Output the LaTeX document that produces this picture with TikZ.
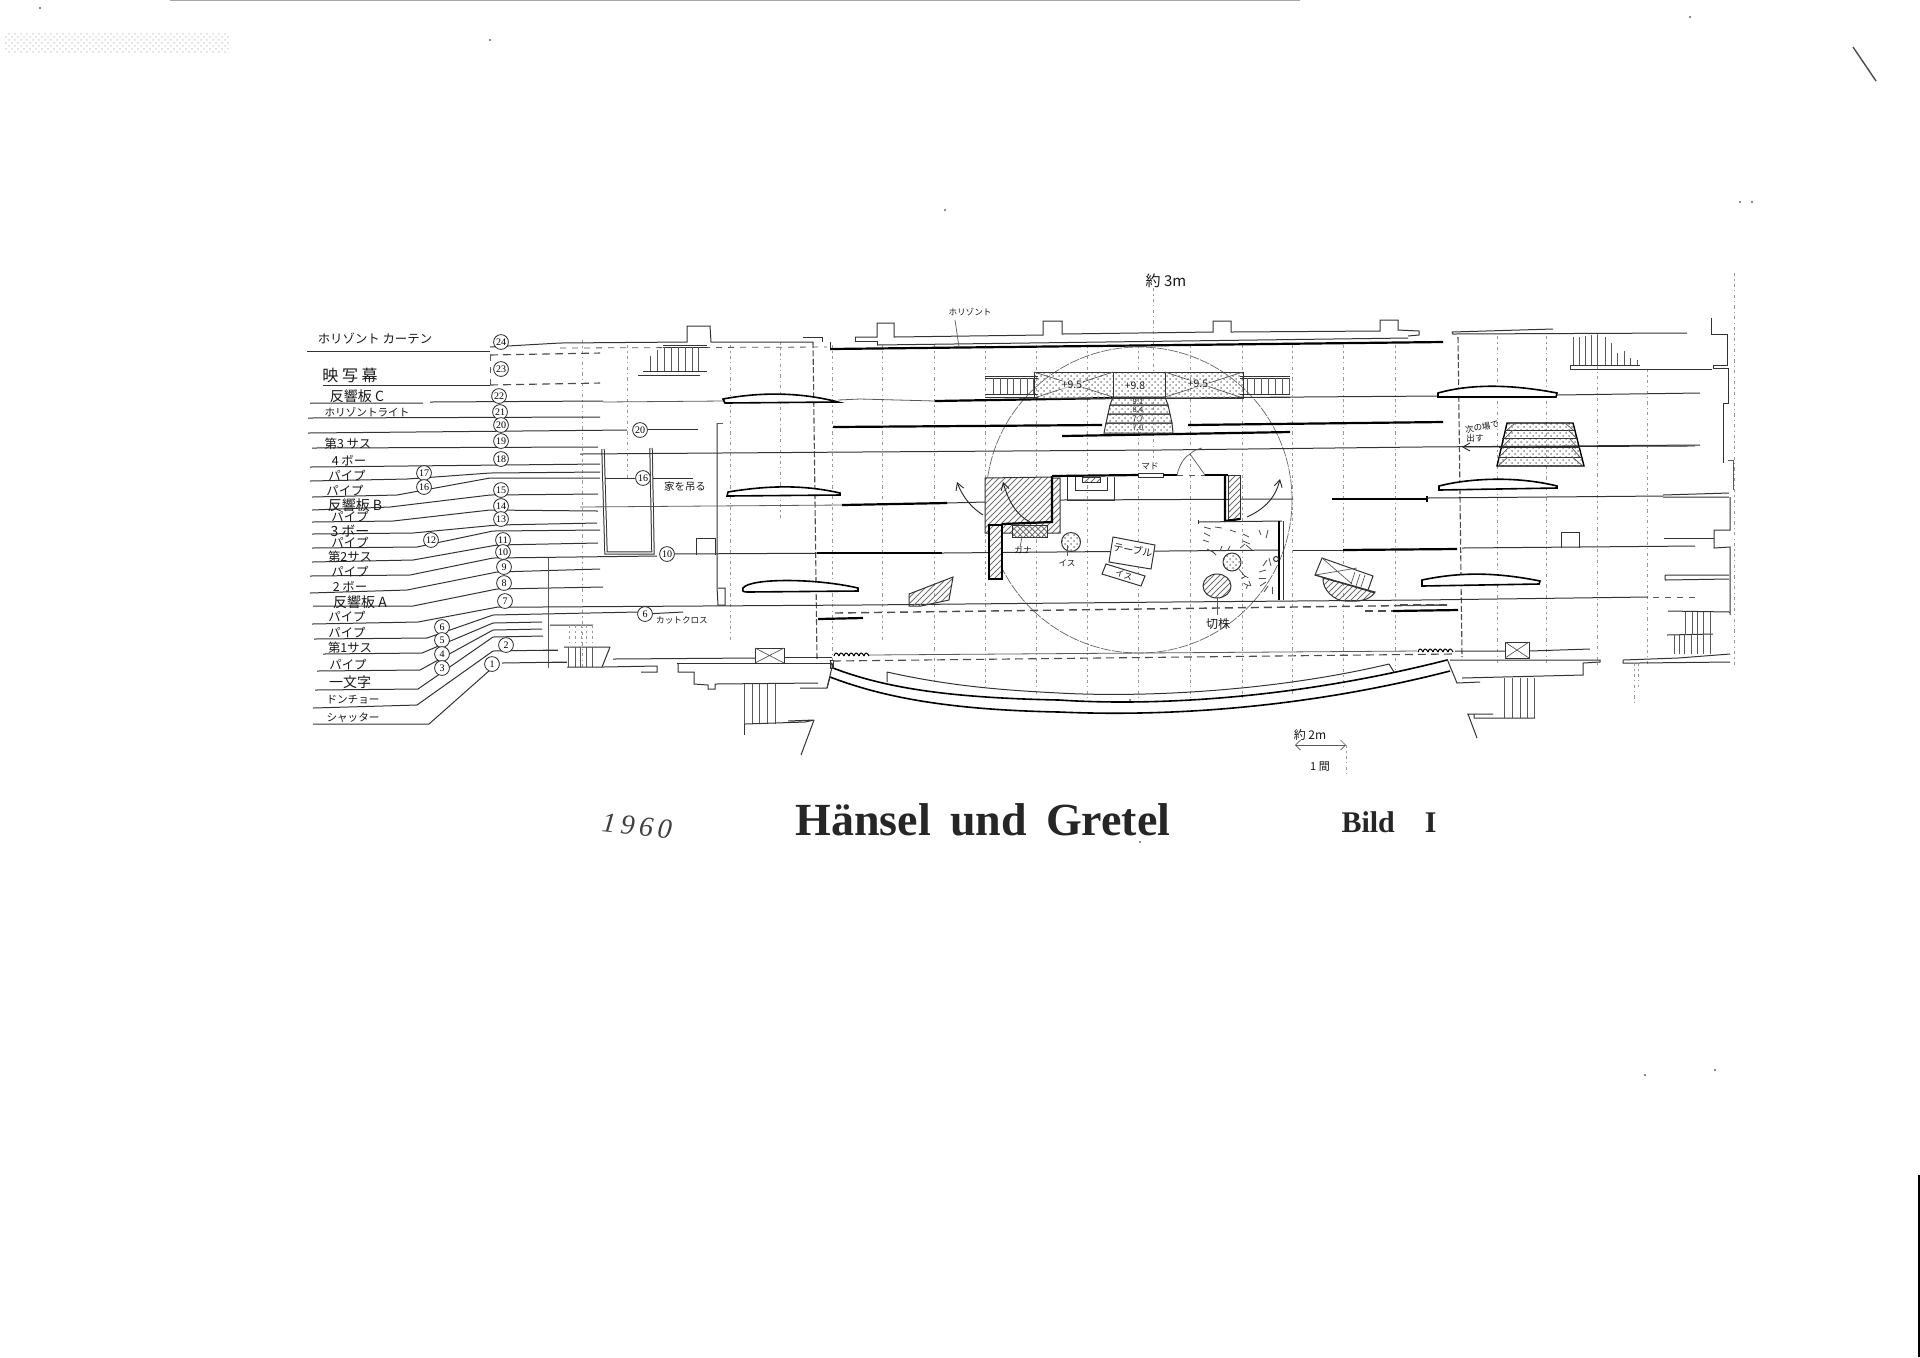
\documentclass[tikz,border=0pt]{standalone}
\usepackage{fontspec}
\setmainfont{Liberation Serif}
\newfontfamily\jp{Noto Sans CJK JP}
\usetikzlibrary{patterns,arrows.meta}
\tikzset{
  ln/.style={line width=.5pt,black!80},
  thk/.style={line width=1.1pt,black},
  fine/.style={line width=.35pt,black!65},
  gridln/.style={line width=.35pt,black!40,dash pattern=on 1.6pt off 1.6pt on .6pt off 1.6pt},
  ddash/.style={line width=.55pt,black!70,dash pattern=on 4pt off 2.5pt},
  thinline/.style={line width=.4pt,black!65},
  lab/.style={font=\jp\fontsize{6.2}{7}\selectfont,inner sep=0pt,black!90},
  labw/.style={font=\jp\fontsize{7}{8}\selectfont,inner sep=0pt,black!90},
  labn/.style={font=\jp\fontsize{5.3}{6}\selectfont,inner sep=0pt,black!90},
  small/.style={font=\jp\fontsize{4.3}{5}\selectfont,inner sep=0pt,black!90},
  num/.style={circle,draw=black!85,fill=white,line width=.4pt,minimum size=7.4pt,inner sep=0pt,font=\fontsize{5}{5}\selectfont},
  hatch/.style={pattern=north east lines,pattern color=black!55},
  stip/.style={pattern=crosshatch dots,pattern color=black!45},
  arr/.style={line width=.45pt,black!85,-{Straight Barb[length=3.5pt,width=4pt]}},
  refl/.style={line width=.8pt,black,fill=white},
  ray/.style={line width=.4pt,black!70}
}
\begin{document}
\begin{tikzpicture}[x=.5pt,y=-.5pt]
\useasboundingbox (0,0) rectangle (1920,1357);
\fill[white] (0,0) rectangle (1920,1357);

% page edge and scan marks
\draw[line width=.3pt,black!35] (170,0) -- (1300,0);
\draw[line width=.7pt,black!70] (1853,47) -- (1876,81);
\draw[line width=.8pt,black] (1919,1175) -- (1919,1357);
\foreach \x/\y in {40/8, 1690/17, 1740/202, 1752/202, 945/210, 1130/700, 1645/1075, 1715/1070, 1140/842, 490/40}
  \fill[black!60] (\x,\y) circle[radius=1.2];
\path[pattern=crosshatch dots,pattern color=black!15] (5,32) rectangle (230,52);

% grid
\foreach \x/\a/\b in {582/340/670, 627/345/480, 730/345/640, 780/342/520, 832/345/660,
  882/345/640, 934/345/680, 985/345/690, 1036/345/695, 1087/345/700, 1138/345/700,
  1190/345/700, 1242/345/700, 1292/345/695, 1343/345/690, 1395/345/670,
  1497/336/665, 1546/336/665, 1597/333/665, 1647/369/665}
  \draw[gridln] (\x,\a) -- (\x,\b);
\draw[gridln] (1153,288) -- (1153,460);
\draw[gridln] (1734,273) -- (1734,668);
\draw[ddash,dash pattern=on 3pt off 1.2pt] (813,342) -- (817,660);
\draw[ddash,dash pattern=on 3pt off 1.2pt] (1458,337) -- (1462,657);

% rotating stage circle
\draw[line width=.35pt,black!60,dash pattern=on 5pt off .6pt] (1139,500) circle[radius=153];

% left label lines
\draw[ln] (307,351) -- (490,351);
\draw[ln] (560,343) -- (490,347);
\draw[ddash] (490,355) -- (600,353);
\draw[ddash] (490,385) -- (600,383);
\draw[thinline,dashed] (490,355) -- (490,385);
\draw[ln] (323,385) -- (490,385);
\draw[ln] (310,403) -- (423,403) (430,402) -- (603,401);
\draw[ln] (308,418) -- (600,417);
\draw[ln] (308,433) -- (627,430);
\draw[ln] (648,429) -- (698,429);
\draw[ln] (312,448) -- (598,447);
\draw[ln] (310,467) -- (600,464);
\draw[ln] (310,481) -- (407,479) -- (490,473) -- (600,472);
\draw[ln] (312,497) -- (397,495) -- (490,478) -- (600,478);
\draw[ln] (312,510) -- (390,507) -- (490,495) -- (598,494);
\draw[ln] (312,522) -- (393,521) -- (490,510) -- (598,511);
\draw[ln] (312,534) -- (413,533) -- (497,525) -- (597,523);
\draw[ln] (312,548) -- (417,547) -- (493,531) -- (600,530);
\draw[ln] (312,562) -- (413,560) -- (497,545) -- (598,543);
\draw[ln] (310,576) -- (410,575) -- (493,558) -- (657,556);
\draw[ln] (310,593) -- (407,590) -- (497,572) -- (600,569);
\draw[ln] (313,606) -- (413,606) -- (497,589) -- (603,587);
\draw[ln] (312,624) -- (418,622) -- (498,607) -- (540,607);
\draw[ln] (314,639) -- (427,638) -- (493,615) -- (638,612);
\draw[ln] (323,654) -- (422,653) -- (493,623) -- (542,622);
\draw[ln] (317,671) -- (420,670) -- (493,630) -- (542,629);
\draw[ln] (315,690) -- (418,689) -- (493,637) -- (543,636);
\draw[ln] (313,708) -- (417,705) -- (493,651) -- (558,650);
\draw[ln] (313,724) -- (429,724) -- (490,670);
\draw[ln] (502,663) -- (567,662);
\draw[fine] (548,558) -- (548,668);

% label texts
\node[lab] (t1) at (375,338) {ホリゾント カーテン};
\node[lab,font=\jp\fontsize{8}{8}\selectfont] (t2) at (350,375) {映 写 幕};
\node[labw] (t3) at (357,396) {反響板 C};
\node[labn] (t4) at (367,412) {ホリゾントライト};
\node[lab] (t5) at (348,444) {第3 サス};
\node[lab] (t6) at (349,461) {4 ボー};
\node[lab] (t7) at (347,476) {パイプ};
\node[lab] (t8) at (345,491) {パイプ};
\node[labw] (t9) at (355,505) {反響板 B};
\node[lab] (t10) at (350,517) {パイプ};
\node[labw] (t11) at (350,531) {3 ボー};
\node[lab] (t12) at (350,543) {パイプ};
\node[lab] (t13) at (350,557) {第2サス};
\node[lab] (t14) at (350,572) {パイプ};
\node[lab] (t15) at (350,587) {2 ボー};
\node[labw] (t16) at (360,602) {反響板 A};
\node[lab] (t17) at (347,617) {パイプ};
\node[lab] (t18) at (347,633) {パイプ};
\node[lab] (t19) at (350,648) {第1サス};
\node[lab] (t20) at (348,665) {パイプ};
\node[labw] (t21) at (350,682) {一文字};
\node[labn] (t22) at (353,700) {ドンチョー};
\node[labn] (t23) at (353,718) {シャッター};

% numbered circles
\node[num] (n24) at (501,342) {24};
\node[num] (n23) at (501,369) {23};
\node[num] (n22) at (499,396) {22};
\node[num] (n21) at (500,412) {21};
\node[num] (n20) at (501,425) {20};
\node[num] (n19) at (501,441) {19};
\node[num] (n18) at (501,459) {18};
\node[num] (n17) at (424,473) {17};
\node[num] (n16) at (424,487) {16};
\node[num] (n15) at (501,490) {15};
\node[num] (n14) at (501,506) {14};
\node[num] (n13) at (501,519) {13};
\node[num] (n12) at (431,540) {12};
\node[num] (n11) at (503,540) {11};
\node[num] (n10) at (503,552) {10};
\node[num] (n9) at (504,567) {9};
\node[num] (n8) at (504,583) {8};
\node[num] (n7) at (505,601) {7};
\node[num] (n6) at (442,627) {6};
\node[num] (n5) at (442,640) {5};
\node[num] (n4) at (442,654) {4};
\node[num] (n3) at (442,668) {3};
\node[num] (n2) at (506,645) {2};
\node[num] (n1) at (492,664) {1};
\node[num] (m20) at (640,430) {20};
\node[num] (m16) at (643,478) {16};
\node[num] (m10) at (667,554) {10};
\node[num] (m6) at (645,614) {6};
\node[small,font=\jp\fontsize{5.2}{6}\selectfont] (ie) at (685,487) {家を吊る};
\node[small] (cut) at (682,620) {カットクロス};
\draw[ln] (605,478) -- (m16) -- (693,478);
\draw[ln] (m6) -- (683,612);
\draw[ln] (m10) -- (860,553);

% left hanging frame
\draw[ln,double=white,double distance=.7pt] (603,449) -- (606,553) -- (653,553) -- (651,448);
\draw[ln] (717,423) -- (717,587) -- (718,605) -- (725,605) -- (725,588) -- (718,588);
\draw[fine] (723,423) -- (717,423);
\draw[ln] (696,555) -- (696,538) -- (715,538) -- (715,555);

% upper-left wall and stairs
\draw[ln] (560,343) -- (687,342) -- (687,326) -- (710,326) -- (711,342) -- (813,342);
\draw[ln] (803,337) -- (822,337) -- (822,342);
\draw[thinline,dashed] (560,348) -- (827,347);
\draw[ln] (663,345) -- (707,345) (663,347) -- (707,347);
\draw[ln] (638,375) -- (700,375) (643,371) -- (707,371);
\foreach \x/\t in {650/356,657/350,664/347,671/347,678/347,685/347,692/347,698/347}
  \draw[fine] (\x,\t) -- (\x,371);

% left reflector boards
\draw[thinline] (603,402) -- (723,401);
\draw[refl] (723,399) .. controls (760,392) and (800,392) .. (838,402) -- (725,403) -- cycle;
\draw[thinline] (838,400) -- (860,399);
\draw[refl] (728,492) .. controls (770,485) and (805,485) .. (840,493) -- (840,495) -- (727,496) -- cycle;
\draw[refl] (743,588) .. controls (750,578) and (815,578) .. (858,588) -- (858,591) -- (747,592) .. controls (742,592) and (742,590) .. (743,588) -- cycle;

% main horizontal lines
\draw[ln] (580,454) -- (860,452) -- (1160,450) -- (1420,447) -- (1700,445);
\draw[thinline] (580,507) -- (842,505);
\draw[ln] (540,607) -- (860,605) -- (1170,602) -- (1420,600) -- (1648,597);
\draw[thinline,dashed] (1653,597) -- (1695,597);
\draw[thk] (833,427) -- (1102,425);
\draw[thk] (1188,425) -- (1443,422);
\draw[thk] (1062,436) -- (1290,432);
\draw[ln] (830,342) -- (830,349);
\draw[thk] (830,349) -- (1443,342);
\draw[ln] (877,345) -- (1408,338);
\draw[thinline] (860,399) -- (935,401);
\draw[thk] (935,401) -- (1113,398);
\draw[ln] (1165,398) -- (1438,396);
\draw[ln] (1557,395) -- (1700,393);
\draw[thk] (842,505) -- (947,503);
\draw[ln] (947,503) -- (985,502);
\draw[ln] (1060,500) -- (1293,499);
\draw[thk] (1332,499) -- (1427,499);
\draw[thk] (1427,496) -- (1427,502);
\draw[ln] (1427,498) -- (1663,496);
\draw[thk] (817,553) -- (942,553);
\draw[ln] (942,553) -- (1280,550);
\draw[ln] (1293,550) -- (1343,550);
\draw[thk] (1343,550) -- (1457,549);
\draw[ln] (1462,548) -- (1695,546);
\draw[ddash,line width=.7pt] (835,613) -- (1447,605);
\draw[thk] (818,619) -- (863,618);
\draw[ddash] (1365,611) -- (1393,611);
\draw[thk] (1393,611) -- (1458,610);

% back wall (horizont)
\draw[ln] (855,337) -- (877,337) -- (877,323) -- (894,323) -- (894,337) -- (1043,335) -- (1043,321) -- (1062,321) -- (1062,334) -- (1213,332) -- (1213,321) -- (1231,321) -- (1231,332) -- (1380,331) -- (1380,320) -- (1398,320) -- (1398,330) -- (1419,331) -- (1419,335) -- (1408,336);
\draw[ln] (855,337) -- (855,341) -- (877,341) -- (877,345);
\node[small] (hz) at (970,312) {ホリゾント};
\draw[fine] (955,320) -- (959,347);
\node[lab,font=\fontsize{7.5}{8}\selectfont\jp] (m3) at (1166,281) {約 3m};

% stippled rostrum
\draw[ln,stip] (1034,372) -- (1243,372) -- (1243,398) -- (1034,398) -- cycle;
\draw[ln,fill=white] (1113,372) rectangle (1165,397);
\draw[ln,stip] (1113,372) rectangle (1165,397);
\draw[fine] (1034,372) -- (1113,397) (1034,398) -- (1113,372) (1165,397) -- (1243,372) (1165,372) -- (1243,398);
\foreach \ya/\yb/\xa/\xb/\xc/\xd in {397/405/1113/1165/1110/1168, 405/414/1110/1168/1108/1170, 414/423/1108/1170/1106/1172, 423/433/1106/1172/1104/1173}
  \draw[ln,stip] (\xa,\ya) -- (\xb,\ya) -- (\xd,\yb) -- (\xc,\yb) -- cycle;
\node[small,font=\jp\fontsize{5.2}{6}\selectfont,fill=white,fill opacity=.6,text opacity=1,inner sep=.3pt] (h1) at (1072,385) {+9.5};
\node[small,font=\jp\fontsize{5.2}{6}\selectfont,fill=white,fill opacity=.6,text opacity=1,inner sep=.3pt] (h2) at (1135,386) {+9.8};
\node[small,font=\jp\fontsize{5.2}{6}\selectfont,fill=white,fill opacity=.6,text opacity=1,inner sep=.3pt] (h3) at (1198,384) {+9.5};
\node[small,font=\fontsize{3.8}{4}\selectfont\jp] (h4) at (1138,402) {9.1};
\node[small,font=\fontsize{3.8}{4}\selectfont\jp] (h5) at (1138,410) {8.4};
\node[small,font=\fontsize{3.8}{4}\selectfont\jp] (h6) at (1138,419) {7.7};
\node[small,font=\fontsize{3.8}{4}\selectfont\jp] (h7) at (1138,428) {7.0};
% stairs beside rostrum
\draw[ln] (985,376) -- (1038,376) (985,378) -- (1038,378) (985,394) -- (1038,394) (985,397) -- (1038,397);
\foreach \x in {993,1000,1007,1013,1020,1027,1033} \draw[fine] (\x,378) -- (\x,394);
\draw[ln] (1240,376) -- (1290,376) (1240,378) -- (1290,378) (1240,394) -- (1290,394) (1240,397) -- (1290,397);
\foreach \x in {1247,1254,1261,1268,1275,1282,1289} \draw[fine] (\x,378) -- (\x,394);

% witch's house
\path[fill=white] (1052,478) -- (1060,478) -- (1060,533) -- (1002,533) -- (1002,524) -- (1052,522) -- cycle;
\draw[ln,hatch] (1052,478) -- (1060,478) -- (1060,533) -- (1002,533) -- (1002,524) -- (1052,522) -- cycle;
\path[fill=white] (985,478) -- (1052,477) -- (1052,522) -- (1002,524) -- (1002,533) -- (985,533) -- cycle;
\draw[ln,hatch] (985,478) -- (1052,477) -- (1052,522) -- (1002,524) -- (1002,533) -- (985,533) -- cycle;
\path[fill=white] (989,525) rectangle (1002,579);
\draw[thk,hatch] (989,525) rectangle (1002,579);
\draw[thk] (1052,476) -- (1052,522) -- (1002,524);
\path[fill=white] (1012,525) rectangle (1047,537);
\draw[ln,pattern=crosshatch,pattern color=black!55] (1012,525) rectangle (1047,537);
\draw[fine] (1022,537) -- (1020,547);
\node[small] (kana) at (1023,550) {ガナ};
\draw[thk] (1052,476) -- (1138,475);
\draw[ln] (1067,477) -- (1067,500) -- (1114,500) -- (1114,477);
\draw[ln] (1075,477) -- (1075,490) -- (1107,490) -- (1107,477);
\draw[ln,hatch] (1082,477) rectangle (1100,482);
\draw[ln] (1138,473) rectangle (1163,477);
\node[small] (mado) at (1150,466) {マド};
\draw[thk] (1163,475) -- (1177,475);
\draw[fine,dashed] (1177,475) -- (1205,475);
\draw[fine] (1177,475) .. controls (1180,462) and (1186,456) .. (1190,454) .. controls (1193,451) and (1197,449) .. (1202,448);
\draw[fine] (1190,454) -- (1205,475);
\draw[thk] (1205,475) -- (1228,475);
\path[fill=white] (1228,475) rectangle (1240,519);
\draw[ln,hatch] (1228,475) rectangle (1240,519);
\draw[thk] (1225,475) -- (1225,521) -- (1240,519);
\draw[ln] (1198,522) -- (1282,521);
\draw[thk] (1279,521) -- (1279,600);
\draw[ln] (1283,521) -- (1283,600);
\draw[ln] (1198,520) -- (1198,524);
\draw[arr] (983,515) .. controls (972,508) and (963,498) .. (957,482);
\draw[arr] (1030,522) .. controls (1016,515) and (1008,500) .. (1003,482);
\draw[arr] (1247,517) .. controls (1262,510) and (1275,500) .. (1280,479);

% furniture
\draw[ln,stip] (1071,542) circle[radius=9.5];
\draw[fine] (1067,545) -- (1067,556);
\node[small] (chair1) at (1067,563) {イス};
\draw[ln,fill=white] (1113,537) -- (1155,545) -- (1151,569) -- (1109,562) -- cycle;
\node[small,rotate=-10,font=\jp\fontsize{5}{6}\selectfont] (table) at (1133,550) {テーブル};
\draw[ln,fill=white] (1106,564) -- (1145,576) -- (1141,586) -- (1102,574) -- cycle;
\node[small,rotate=-15] (bench) at (1124,575) {イス};
\draw[ln,stip] (1232,562) circle[radius=9];
\draw[fine] (1238,568) -- (1243,574);
\node[small,rotate=-65] (chair2) at (1246,581) {イス};
\draw[ln,hatch] (1217,586) ellipse[x radius=14,y radius=12];
\draw[fine] (1217,597) -- (1217,615);
\node[small,font=\jp\fontsize{6}{7}\selectfont] (stump) at (1218,624) {切株};
\draw[ln] (1276,559) circle[radius=2.5];
% light strokes
\foreach \ax/\ay/\bx/\by in {1204/527/1211/529, 1215/527/1222/528, 1230/530/1236/532, 1243/534/1249/537, 1204/533/1210/536, 1203/540/1209/542, 1207/549/1213/552, 1212/551/1216/555, 1240/548/1245/544, 1246/545/1252/550, 1243/541/1250/544, 1220/551/1222/546, 1228/550/1230/546,
  1263/566/1267/560, 1259/572/1266/570, 1259/578/1266/578, 1260/586/1266/582, 1264/592/1268/586, 1272/594/1272/587, 1269/558/1271/566, 1261/535/1259/530, 1266/538/1268/530}
  \draw[ray] (\ax,\ay) -- (\bx,\by);
% cart and hatched shapes
\draw[ln,hatch] (909,594) -- (953,577) -- (949,600) -- (921,606) -- (909,606) -- cycle;
\draw[ln,hatch] (1323,578) .. controls (1322,590) and (1335,601) .. (1345,601) .. controls (1360,602) and (1370,600) .. (1375,592) -- cycle;
\draw[ln,fill=white] (1322,558) -- (1373,576) -- (1368,590) -- (1315,575) -- cycle;
\draw[fine] (1322,558) -- (1352,584) (1315,575) -- (1357,568);
\foreach \x/\y in {1355/572, 1360/574, 1365/575} \draw[fine] (\x,\y) -- (\x-4,\y+12);
\draw[ln] (1315,575) -- (1375,593);

% proscenium and apron
\draw[line width=.8pt] (833,668) .. controls (890,690) and (960,698) .. (1059,700) .. controls (1150,706) and (1290,700) .. (1447,660);
\draw[line width=.8pt] (830,677) .. controls (890,700) and (960,710) .. (1059,712) .. controls (1150,716) and (1290,712) .. (1450,671);
\draw[ln] (887,672) .. controls (950,686) and (1000,690) .. (1059,693) .. controls (1150,698) and (1280,690) .. (1389,664);
\draw[ln] (887,672) -- (887,682) (1389,664) -- (1394,672);
\draw[ln] (830,660) -- (833,668) (830,677) -- (827,688);
\draw[ln] (833,660) rectangle (830,668);
\draw[ddash] (833,661) -- (1452,654);
\draw[thinline] (868,655) -- (1417,651);
\foreach \x in {834,839,...,864} \draw[line width=.5pt] (\x,656) .. controls (\x+1,652) and (\x+3,652) .. (\x+5,656);
\foreach \x in {1418,1423,...,1448} \draw[line width=.5pt] (\x,652) .. controls (\x+1,648) and (\x+3,648) .. (\x+5,652);

% lower left stage wing
\draw[ln] (550,625) -- (593,625) (564,647) -- (610,647) (610,647) -- (602,667);
\foreach \x in {569,575,581,586,592} \draw[gridln] (\x,625) -- (\x,647);
\foreach \x in {568,575,580,586,592} \draw[fine] (\x,647) -- (\x,667);
\draw[ln] (540,662) -- (567,662) (540,650) -- (558,650);
\draw[ln] (641,672) -- (657,672) -- (657,666) -- (603,667) -- (567,667);
\draw[ln] (613,659) -- (755,658);
\draw[ln] (755,648) rectangle (784,663);
\draw[fine] (755,648) -- (784,663) (755,663) -- (784,648);
\draw[ln] (784,657) -- (832,657);
\draw[ln] (677,663) -- (832,663);
\draw[ln] (678,664) -- (678,672) -- (694,672) -- (694,684) -- (708,685) -- (708,689) -- (715,689) -- (715,684) -- (818,683);
\draw[ln] (800,688) -- (827,688) -- (833,663);
\foreach \x in {744,752,759,767,775} \draw[fine] (\x,684) -- (\x,724);
\draw[ln] (745,724) -- (805,722) -- (814,720) -- (788,721);
\draw[ln] (814,720) -- (801,755);
\draw[ln] (744,724) -- (744,735);

% lower right stage wing
\draw[ln] (1450,660) -- (1600,660) -- (1600,662) -- (1583,663) -- (1583,675) -- (1462,678);
\draw[ln] (1447,659) -- (1457,683) -- (1480,682);
\foreach \x in {1504,1512,1520,1527,1534} \draw[fine] (\x,678) -- (\x,718);
\draw[ln] (1474,718) -- (1535,718) (1467,714) -- (1493,714) (1468,714) -- (1477,738) (1474,714) -- (1474,718);
\draw[ln] (1505,642) rectangle (1529,658);
\draw[fine] (1505,642) -- (1529,658) (1505,658) -- (1529,642);
\draw[ln] (1455,651) -- (1505,651) (1529,651) -- (1590,649);
\draw[ln] (1561,548) -- (1561,532) -- (1579,532) -- (1579,548);
\draw[refl] (1422,580) .. controls (1460,572) and (1495,572) .. (1540,581) -- (1539,584) -- (1422,586) -- cycle;
\draw[ddash] (1400,605) -- (1447,605);
\draw[ln] (1623,660) -- (1623,663) -- (1638,663) (1623,660) -- (1678,658) -- (1730,654) (1638,663) -- (1730,662);
\draw[gridln] (1638,663) -- (1638,687);
\draw[gridln] (1634,663) -- (1634,702);
\draw[ln] (1668,611) -- (1730,612) (1667,635) -- (1713,634);
\foreach \x in {1685,1692,1697,1703,1710} \draw[fine] (\x,612) -- (\x,635);
\foreach \x in {1674,1679,1684,1691,1697,1703,1710} \draw[fine] (\x,635) -- (\x,654);

% right wall
\draw[ln] (1711,318) -- (1711,334) -- (1727,334) -- (1727,365) -- (1713,365) -- (1713,368) -- (1728,368) -- (1728,403) -- (1723,403) -- (1723,463);
\draw[fine] (1728,460) -- (1733,460) -- (1733,490);
\draw[ln] (1730,497) -- (1730,530) -- (1714,530) -- (1714,548) -- (1730,547) -- (1730,615);
\draw[ln] (1663,495) -- (1729,493) (1663,497) -- (1729,497);
\draw[ln] (1664,538) -- (1714,538);
\draw[ln] (1665,575) -- (1665,580) (1665,575) -- (1729,575) (1665,580) -- (1729,579);

% upper right stage wing
\draw[ln] (1452,332) -- (1553,329) (1452,332) -- (1453,334) -- (1687,333);
\draw[ln] (1570,365) -- (1570,369) -- (1712,369) (1570,365) -- (1640,365);
\foreach \x/\t in {1573/337,1579/337,1585/336,1591/335,1597/335,1605/337,1611/343,1617/353,1624/351,1630/358,1637/360}
  \draw[fine] (\x,\t) -- (\x,365);
\draw[refl] (1438,393) .. controls (1470,384) and (1510,384) .. (1557,393) -- (1556,397) -- (1438,397) -- cycle;
\draw[refl] (1439,486) .. controls (1470,478) and (1517,476) .. (1557,486) -- (1557,488) -- (1439,490) -- cycle;
% trapezoid platform
\draw[line width=.7pt,stip] (1507,423) -- (1573,423) -- (1584,466) -- (1497,466) -- cycle;
\foreach \xa/\ya/\xb in {1505/430/1576,1502/438/1577,1499/447/1580,1498/457/1583}
  \draw[ln] (\xa,\ya) -- (\xb,\ya);
\foreach \ya/\xa/\yb/\xb/\xc/\xd in {423/1507/430/1515/1573/1565, 430/1505/438/1513/1576/1568, 438/1502/447/1511/1577/1569, 447/1499/457/1509/1580/1571, 457/1498/466/1508/1583/1572}
  \draw[fine] (\xa,\yb) -- (\xb,\ya) (\xc,\yb) -- (\xd,\ya);
\draw[arr] (1695,446) -- (1462,447);
\node[small,rotate=12] (next1) at (1482,427) {次の場で};
\node[small] (next2) at (1475,438) {出す};

% scale annotation
\node[lab,font=\jp\fontsize{6}{7}\selectfont] (m2) at (1310,735) {約 2m};
\draw[fine,{Straight Barb[length=2.5pt]}-{Straight Barb[length=2.5pt]}] (1295,745) -- (1346,745);
\draw[gridln] (1346,745) -- (1346,775);
\node[lab,font=\jp\fontsize{5.5}{6}\selectfont] (ken) at (1320,767) {1 間};

% title
\node[font=\fontsize{23}{26}\selectfont\bfseries,inner sep=0pt,black!85] (title) at (983,820) {Hänsel\, und\, Gretel};
\node[font=\fontsize{15}{16}\selectfont\bfseries,inner sep=0pt,black!85] (bild) at (1389,822) {Bild\quad I};
\node[font=\fontsize{14}{16}\selectfont\itshape,inner sep=0pt,black!75,rotate=-6] (year) at (637,826) {1\,9\,6\,0};
\end{tikzpicture}
\end{document}
